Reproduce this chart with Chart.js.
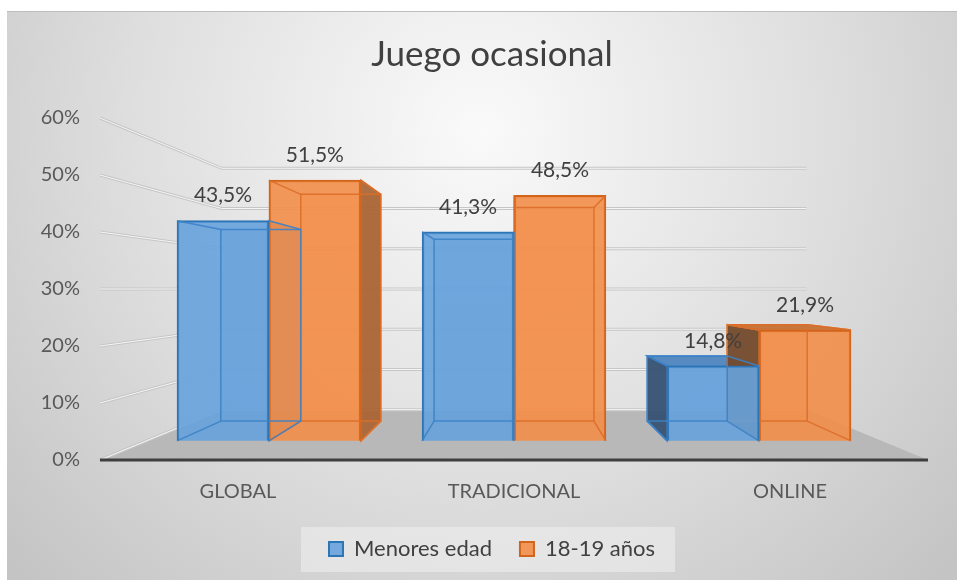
<!DOCTYPE html>
<html>
<head>
<meta charset="utf-8">
<title>Juego ocasional</title>
<script src="https://cdn.jsdelivr.net/npm/chart.js@4.4.0/dist/chart.umd.min.js"></script>
<style>
    html, body { margin: 0; padding: 0; background: #fff; }
    #wrap { width: 957px; height: 580px; }
</style>
</head>
<body>
<div id="wrap"><canvas id="chart" width="957" height="580"></canvas></div>
<script>
// Data
const categories = ['GLOBAL', 'TRADICIONAL', 'ONLINE'];
const menoresEdad = [43.5, 41.3, 14.8];
const anos1819 = [51.5, 48.5, 21.9];
const yTicks = [0, 10, 20, 30, 40, 50, 60];

// Perspective (Excel 3D look)
const VP_VALUE = 30;      // eye height, in axis units
const BAR_DEPTH = 0.888;  // front face of the bars vs. front of the floor
const BAR_BACK = 0.87;    // back face of a bar vs. its front face
const FLOOR_BACK = 0.706; // back wall vs. front of the floor

const FONT = 'Lato';
const TEXT = '#404040';

const yMin = yTicks[0];
const yMax = yTicks[yTicks.length - 1];
const xMid = (categories.length - 1) / 2;

// hidden axes for the bars, scaled around the vanishing point
const xbHalf = (categories.length / 2) / BAR_DEPTH;
const ybMin = VP_VALUE - (VP_VALUE - yMin) / BAR_DEPTH;
const ybMax = VP_VALUE + (yMax - VP_VALUE) / BAR_DEPTH;

const faceColors = [
    { side: 'rgba(50,78,110,0.9)', sideLit: 'rgba(70,110,150,0.85)', top: 'rgba(78,132,190,0.92)', back: 'rgba(95,150,210,0.35)', edge: 'rgba(60,130,200,0.9)' },
    { side: 'rgba(112,72,42,0.92)', sideLit: 'rgba(168,100,52,0.92)', top: 'rgba(196,112,52,0.92)', back: 'rgba(240,140,70,0.35)', edge: 'rgba(220,110,40,0.9)' }
];

function fmt(v) {
    return v.toFixed(1).replace('.', ',') + '%';
}

function getView(chart) {
    const x = chart.scales.x;
    const y = chart.scales.y;
    return {
        vx: x.getPixelForValue(xMid),
        vy: y.getPixelForValue(VP_VALUE)
    };
}

function project(view, px, py, k) {
    return [view.vx + k * (px - view.vx), view.vy + k * (py - view.vy)];
}

function quad(ctx, pts, fill, stroke, lw) {
    ctx.beginPath();
    ctx.moveTo(pts[0][0], pts[0][1]);
    for (let i = 1; i < pts.length; i++) ctx.lineTo(pts[i][0], pts[i][1]);
    ctx.closePath();
    if (fill) { ctx.fillStyle = fill; ctx.fill(); }
    if (stroke) { ctx.strokeStyle = stroke; ctx.lineWidth = lw || 1; ctx.stroke(); }
}

function barBox(bar, view) {
    const p = bar.getProps(['x', 'y', 'base', 'width'], true);
    const L = p.x - p.width / 2, R = p.x + p.width / 2, T = p.y, B = p.base;
    return {
        L, R, T, B,
        bTL: project(view, L, T, BAR_BACK), bTR: project(view, R, T, BAR_BACK),
        bBL: project(view, L, B, BAR_BACK), bBR: project(view, R, B, BAR_BACK)
    };
}

const scene3d = {
    id: 'scene3d',
    beforeDraw(chart) {
        const ctx = chart.ctx;
        const area = chart.chartArea;
        const y = chart.scales.y;
        const view = getView(chart);
        ctx.save();

        // background
        const g = ctx.createRadialGradient(480, 130, 0, 480, 130, 640);
        g.addColorStop(0, '#fafafa');
        g.addColorStop(0.55, '#dedede');
        g.addColorStop(1, '#c4c4c4');
        ctx.fillStyle = g;
        ctx.fillRect(7, 11, chart.width - 7, chart.height - 11);
        ctx.fillStyle = '#bdbdbd';
        ctx.fillRect(7, 11, chart.width - 7, 1);

        // legend box
        const hb = chart.legend.legendHitBoxes;
        if (hb && hb.length) {
            const l = Math.min(...hb.map(h => h.left)) - 28;
            const r = Math.max(...hb.map(h => h.left + h.width)) + 20;
            const cy = hb[0].top + hb[0].height / 2;
            ctx.fillStyle = 'rgba(240,240,240,0.55)';
            ctx.fillRect(l, cy - 22, r - l, 45);
        }

        // floor
        const fl = [area.left, area.bottom], fr = [area.right, area.bottom];
        const bl = project(view, fl[0], fl[1], FLOOR_BACK);
        const br = project(view, fr[0], fr[1], FLOOR_BACK);
        quad(ctx, [fl, fr, br, bl], '#b8b8b8');

        // walls: gridlines
        yTicks.forEach(v => {
            const py = y.getPixelForValue(v);
            const back = project(view, area.left, py, FLOOR_BACK);
            const right = project(view, area.right, py, FLOOR_BACK);
            ctx.beginPath();
            ctx.moveTo(area.left, py);
            ctx.lineTo(back[0], back[1]);
            ctx.lineTo(right[0], back[1]);
            ctx.strokeStyle = '#c6c6c6';
            ctx.lineWidth = 3;
            ctx.stroke();
            ctx.strokeStyle = '#f6f6f6';
            ctx.lineWidth = 1;
            ctx.stroke();
        });

        // floor front edge
        ctx.fillStyle = '#3f3f3f';
        ctx.fillRect(area.left, area.bottom - 1.5, area.right - area.left, 3);
        ctx.restore();
    },
    beforeDatasetsDraw(chart) {
        const ctx = chart.ctx;
        const view = getView(chart);
        ctx.save();
        chart.data.datasets.forEach((ds, di) => {
            const c = faceColors[di];
            chart.getDatasetMeta(di).data.forEach(bar => {
                const b = barBox(bar, view);
                quad(ctx, [b.bTL, b.bTR, b.bBR, b.bBL], c.back);
                if (b.R < view.vx - 1) {
                    quad(ctx, [[b.R, b.T], b.bTR, b.bBR, [b.R, b.B]], c.sideLit, c.edge, 1.5);
                } else if (b.L > view.vx + 1) {
                    quad(ctx, [[b.L, b.T], b.bTL, b.bBL, [b.L, b.B]], c.side, c.edge, 1.5);
                }
                if (b.T > view.vy) {
                    quad(ctx, [[b.L, b.T], [b.R, b.T], b.bTR, b.bTL], c.top, c.edge, 1.5);
                }
            });
        });
        ctx.restore();
    },
    afterDatasetDraw(chart, args) {
        const ctx = chart.ctx;
        const view = getView(chart);
        const c = faceColors[args.index];
        ctx.save();
        ctx.strokeStyle = c.edge;
        ctx.lineWidth = 1.5;
        args.meta.data.forEach(bar => {
            const b = barBox(bar, view);
            quad(ctx, [b.bTL, b.bTR, b.bBR, b.bBL], null, c.edge, 1.5);
            ctx.beginPath();
            ctx.moveTo(b.L, b.T); ctx.lineTo(b.bTL[0], b.bTL[1]);
            ctx.moveTo(b.R, b.T); ctx.lineTo(b.bTR[0], b.bTR[1]);
            ctx.moveTo(b.L, b.B); ctx.lineTo(b.bBL[0], b.bBL[1]);
            ctx.moveTo(b.R, b.B); ctx.lineTo(b.bBR[0], b.bBR[1]);
            ctx.stroke();
        });
        ctx.restore();
    },
    afterDraw(chart) {
        // data labels
        const ctx = chart.ctx;
        ctx.save();
        ctx.font = '21px ' + FONT;
        ctx.fillStyle = TEXT;
        ctx.textAlign = 'center';
        ctx.textBaseline = 'middle';
        chart.data.datasets.forEach((ds, di) => {
            chart.getDatasetMeta(di).data.forEach((bar, i) => {
                ctx.fillText(fmt(ds.data[i].y), bar.x, bar.y - 25);
            });
        });
        ctx.restore();
    }
};

new Chart(document.getElementById('chart'), {
    type: 'bar',
    data: {
        labels: categories,
        datasets: [
            {
                label: 'Menores edad',
                data: menoresEdad.map((v, i) => ({ x: i, y: v })),
                xAxisID: 'xb',
                yAxisID: 'yb',
                backgroundColor: 'rgba(102,162,220,0.9)',
                borderColor: '#2e75b6',
                borderWidth: 2
            },
            {
                label: '18-19 años',
                data: anos1819.map((v, i) => ({ x: i, y: v })),
                xAxisID: 'xb',
                yAxisID: 'yb',
                backgroundColor: 'rgba(243,142,74,0.9)',
                borderColor: '#d2651c',
                borderWidth: 2
            }
        ]
    },
    options: {
        responsive: false,
        animation: false,
        barThickness: 'flex',
        categoryPercentage: 0.75,
        barPercentage: 1,
        layout: { padding: { left: 27, right: 0, top: 11, bottom: 10 } },
        plugins: {
            title: {
                display: true,
                text: 'Juego ocasional',
                color: TEXT,
                font: { family: FONT, size: 35, weight: 'normal' },
                padding: { top: 23, bottom: 42 }
            },
            legend: {
                position: 'bottom',
                labels: {
                    color: TEXT,
                    font: { family: FONT, size: 22 },
                    boxWidth: 14,
                    boxHeight: 14,
                    padding: 28
                }
            },
            tooltip: { enabled: false }
        },
        scales: {
            x: {
                type: 'category',
                labels: categories,
                offset: true,
                grid: { display: false, drawTicks: false },
                border: { display: false },
                ticks: { color: '#595959', font: { family: FONT, size: 20 }, padding: 20 },
                afterFit: s => { s.height = 50; }
            },
            y: {
                min: yMin,
                max: yMax,
                grid: { display: false, drawTicks: false },
                border: { display: false },
                ticks: {
                    stepSize: yTicks[1] - yTicks[0],
                    color: '#595959',
                    font: { family: FONT, size: 20 },
                    padding: 20,
                    callback: v => v + '%'
                },
                afterFit: s => { s.width = 73; }
            },
            // empty right margin so the chart box is centred like the original
            yr: {
                position: 'right',
                grid: { display: false, drawTicks: false },
                border: { display: false },
                ticks: { display: false },
                afterFit: s => { s.width = 29; }
            },
            xb: { type: 'linear', display: false, offset: false, min: xMid - xbHalf, max: xMid + xbHalf },
            yb: { type: 'linear', display: false, min: ybMin, max: ybMax }
        }
    },
    plugins: [scene3d]
});
</script>
</body>
</html>
